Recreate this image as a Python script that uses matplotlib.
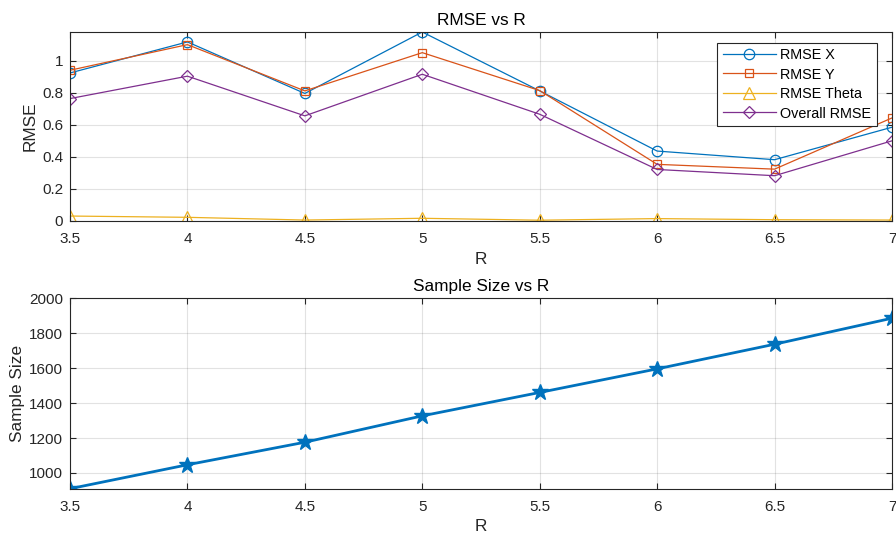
import matplotlib
matplotlib.use('Agg')
import matplotlib.pyplot as plt
import numpy as np

# R values and the errors measured at each one
R = [3.5, 4, 4.5, 5, 5.5, 6, 6.5, 7]
rmse_x = [0.925, 1.119, 0.797, 1.181, 0.813, 0.437, 0.383, 0.586]
rmse_y = [0.942, 1.102, 0.813, 1.052, 0.815, 0.354, 0.324, 0.644]
rmse_theta = [0.031, 0.023, 0.006, 0.017, 0.005, 0.015, 0.008, 0.006]
rmse_all = [0.765, 0.905, 0.657, 0.917, 0.667, 0.322, 0.283, 0.501]
sample_size = [910, 1047, 1176, 1327, 1461, 1596, 1737, 1886]

plt.rcParams['font.family'] = ['Liberation Sans', 'DejaVu Sans']
plt.rcParams['font.size'] = 10

BLUE = '#0072BD'
RED = '#D95319'
YELLOW = '#EDB120'
PURPLE = '#7E2F8E'
TXT = '#262626'

W, H = 896, 536

def matlab_style(ax):
	ax.grid(True, color='#262626', alpha=0.13, linewidth=0.8)
	ax.set_axisbelow(True)
	for s in ax.spines.values():
		s.set_color('#262626')
		s.set_linewidth(0.8)
	ax.tick_params(direction='in', top=True, right=True, colors=TXT,
		labelsize=11, length=4, width=0.8, pad=5)
	ax.tick_params(axis='x', pad=8)
	ax.set_xlim(3.5, 7)
	ax.set_xticks(R)
	ax.set_xticklabels(['3.5', '4', '4.5', '5', '5.5', '6', '6.5', '7'])

fig = plt.figure(figsize=(W/100, H/100), dpi=100)
ax1 = fig.add_axes([70/W, 1-221/H, 822/W, 189/H])
ax2 = fig.add_axes([70/W, 1-488.7/H, 822/W, 190.4/H])

mk = dict(markerfacecolor='none', linewidth=0.9, markeredgewidth=0.9)
ax1.plot(R, rmse_x, '-o', color=BLUE, label='RMSE X', markersize=7.5, **mk)
ax1.plot(R, rmse_y, '-s', color=RED, label='RMSE Y', markersize=6, **mk)
ax1.plot(R, rmse_theta, '-^', color=YELLOW, label='RMSE Theta', markersize=8.5, **mk)
ax1.plot(R, rmse_all, '-D', color=PURPLE, label='Overall RMSE', markersize=6, **mk)
matlab_style(ax1)
ax1.set_ylim(0, max(rmse_x))
ax1.set_yticks([0, 0.2, 0.4, 0.6, 0.8, 1])
ax1.set_yticklabels(['0', '0.2', '0.4', '0.6', '0.8', '1'])
ax1.set_title('RMSE vs R', fontsize=12.4, color='black', pad=5)
ax1.set_xlabel('R', fontsize=12.4, color=TXT, labelpad=4)
ax1.set_ylabel('RMSE', fontsize=12.4, color=TXT, labelpad=3)
leg = ax1.legend(loc='upper right', bbox_to_anchor=(876.7/W, 1-42.7/H),
	bbox_transform=fig.transFigure, borderaxespad=0, fontsize=10.4,
	fancybox=False, framealpha=1, edgecolor='#262626', handlelength=3.7,
	borderpad=0.37, labelspacing=0.38, handletextpad=0.3)
leg.get_frame().set_linewidth(0.8)

ax2.plot(R, sample_size, '-*', color=BLUE, linewidth=2, markersize=12)
matlab_style(ax2)
ax2.set_ylim(min(sample_size), 2000)
ax2.set_yticks([1000, 1200, 1400, 1600, 1800, 2000])
ax2.set_title('Sample Size vs R', fontsize=12.4, color='black', pad=5)
ax2.set_xlabel('R', fontsize=12.4, color=TXT, labelpad=4)
ax2.set_ylabel('Sample Size', fontsize=12.4, color=TXT, labelpad=3)

fig.savefig('out.png', dpi=100)
